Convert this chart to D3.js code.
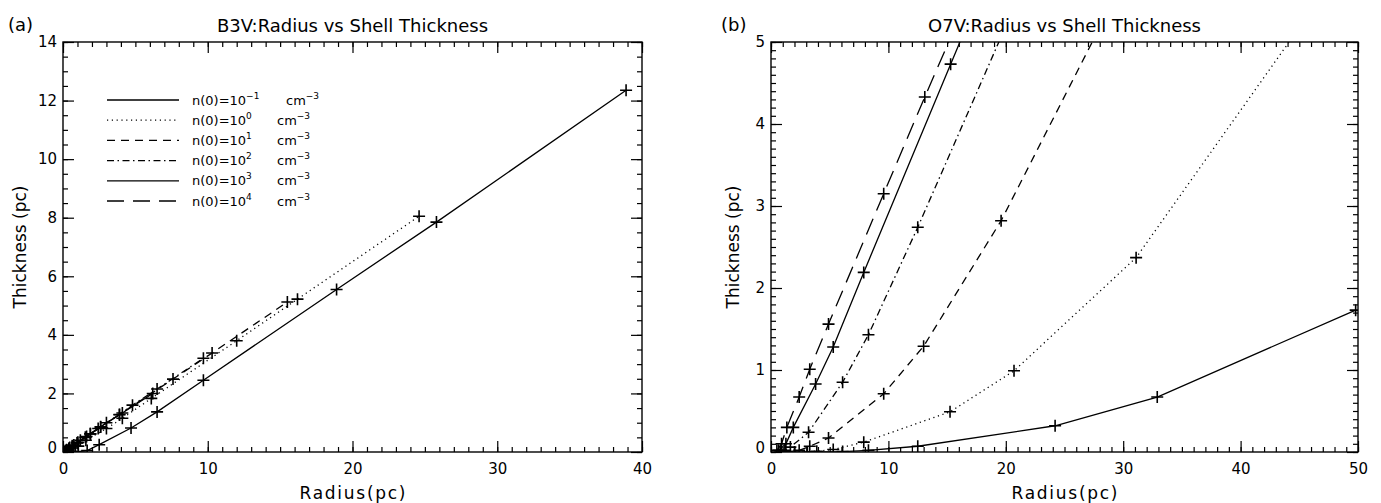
<!DOCTYPE html>
<html>
<head>
<meta charset="utf-8">
<script src="https://cdn.jsdelivr.net/npm/d3@7"></script>
<style>
  body { margin: 0; background: #fff; }
  svg text { fill: #000; }
</style>
</head>
<body>
<svg id="chart" width="1381" height="503"></svg>
<script>
// ---- Data -------------------------------------------------------------
// Initial density exponents: n(0) = 10^k cm^-3
const densityExponents = ["\u22121", "0", "1", "2", "3", "4"];
const lineStyles = ["solid", "dotted", "dashed", "dashdot", "solid", "longdash"];

// B3V star: shell radius (pc) and shell thickness (pc) for each n(0)
const b3vRadiusN1em1 = [0.86, 1.67, 2.5, 4.7, 6.5, 9.7, 18.9, 25.8, 38.9];
const b3vThickN1em1  = [0.0, 0.05, 0.25, 0.82, 1.37, 2.45, 5.55, 7.85, 12.35];
const b3vRadiusN1e0  = [0.54, 1.06, 1.58, 3.0, 4.1, 6.1, 12.0, 16.2, 24.6];
const b3vThickN1e0   = [0.02, 0.2, 0.4, 0.8, 1.15, 1.83, 3.8, 5.22, 8.05];
const b3vRadiusN1e1  = [0.34, 0.67, 1.0, 1.88, 2.6, 3.9, 7.6, 10.3, 15.5];
const b3vThickN1e1   = [0.03, 0.18, 0.32, 0.62, 0.86, 1.28, 2.49, 3.38, 5.12];
const b3vRadiusN1e2  = [0.22, 0.42, 0.63, 1.2, 1.63, 2.43, 4.8, 6.5, 9.7];
const b3vThickN1e2   = [0.03, 0.12, 0.2, 0.4, 0.53, 0.8, 1.6, 2.15, 3.2];
const b3vRadiusN1e3  = [0.14, 0.27, 0.4, 0.75, 1.03, 1.54, 3.0, 4.1, 6.2];
const b3vThickN1e3   = [0.02, 0.07, 0.12, 0.24, 0.33, 0.5, 1.0, 1.33, 2.0];
const b3vRadiusN1e4  = [0.09, 0.17, 0.25, 0.47, 0.65, 0.97, 1.9, 2.6, 3.9];
const b3vThickN1e4   = [0.01, 0.05, 0.08, 0.15, 0.21, 0.31, 0.62, 0.85, 1.27];

// O7V star: shell radius (pc) and shell thickness (pc) for each n(0)
const o7vRadiusN1em1 = [3.1, 6.1, 8.3, 12.5, 24.2, 32.9, 49.8];
const o7vThickN1em1  = [0.0, 0.005, 0.02, 0.07, 0.32, 0.67, 1.73];
const o7vRadiusN1e0  = [2.0, 3.9, 5.3, 7.9, 15.25, 20.7, 31.1, 47.1];
const o7vThickN1e0   = [0.0, 0.01, 0.03, 0.12, 0.49, 0.99, 2.37, 5.6];
const o7vRadiusN1e1  = [1.2, 2.4, 3.3, 4.9, 9.6, 13.0, 19.6, 29.5];
const o7vThickN1e1   = [0.0, 0.02, 0.07, 0.17, 0.71, 1.29, 2.82, 5.6];
const o7vRadiusN1e2  = [0.8, 1.2, 1.65, 3.2, 6.1, 8.3, 12.5, 24.3];
const o7vThickN1e2   = [0.0, 0.02, 0.06, 0.24, 0.85, 1.43, 2.74, 6.6];
const o7vRadiusN1e3  = [0.65, 1.27, 1.9, 3.8, 5.3, 7.9, 15.3, 20.8];
const o7vThickN1e3   = [0.02, 0.1, 0.3, 0.83, 1.28, 2.19, 4.73, 6.6];
const o7vRadiusN1e4  = [0.5, 0.9, 1.35, 2.4, 3.3, 4.9, 9.6, 13.1, 19.7];
const o7vThickN1e4   = [0.02, 0.1, 0.3, 0.67, 1.01, 1.56, 3.15, 4.33, 6.5];

// Axis ticks
const b3vXTicks = [0, 10, 20, 30, 40];
const b3vYTicks = [0, 2, 4, 6, 8, 10, 12, 14];
const o7vXTicks = [0, 10, 20, 30, 40, 50];
const o7vYTicks = [0, 1, 2, 3, 4, 5];

const b3vSeries = [
  [b3vRadiusN1em1, b3vThickN1em1], [b3vRadiusN1e0, b3vThickN1e0],
  [b3vRadiusN1e1, b3vThickN1e1],   [b3vRadiusN1e2, b3vThickN1e2],
  [b3vRadiusN1e3, b3vThickN1e3],   [b3vRadiusN1e4, b3vThickN1e4]
];
const o7vSeries = [
  [o7vRadiusN1em1, o7vThickN1em1], [o7vRadiusN1e0, o7vThickN1e0],
  [o7vRadiusN1e1, o7vThickN1e1],   [o7vRadiusN1e2, o7vThickN1e2],
  [o7vRadiusN1e3, o7vThickN1e3],   [o7vRadiusN1e4, o7vThickN1e4]
];

// ---- Drawing ----------------------------------------------------------
const FONT = '"DejaVu Sans", "Liberation Sans", sans-serif';
const dashFor = {
  solid: null,
  dotted: "1.2,3.6",
  dashed: "8,6",
  dashdot: "7,3.5,1.5,3.5",
  longdash: "17,9"
};
const svg = d3.select("#chart");

function styleAxis(sel, size) {
  sel.attr("font-family", FONT).attr("font-size", size);
  sel.select(".domain").remove();
  sel.selectAll(".tick line").attr("stroke", "#000").attr("stroke-width", 1.2);
}

function drawPanel(p) {
  const x = d3.scaleLinear().domain(p.xDomain).range([p.left, p.right]);
  const y = d3.scaleLinear().domain(p.yDomain).range([p.bottom, p.top]);
  const g = svg.append("g");

  g.append("clipPath").attr("id", p.id + "-clip")
    .append("rect")
    .attr("x", p.left).attr("y", p.top)
    .attr("width", p.right - p.left).attr("height", p.bottom - p.top);

  const xMinor = d3.range(p.xDomain[0], p.xDomain[1] + 1e-9, p.xMinor).map(v => +v.toFixed(4));
  const yMinor = d3.range(p.yDomain[0], p.yDomain[1] + 1e-9, p.yMinor).map(v => +v.toFixed(4));

  // minor ticks on all four sides
  g.append("g").attr("transform", `translate(0,${p.bottom})`)
    .call(d3.axisBottom(x).tickValues(xMinor).tickSize(-5).tickFormat(""))
    .call(s => styleAxis(s, 15));
  g.append("g").attr("transform", `translate(0,${p.top})`)
    .call(d3.axisTop(x).tickValues(xMinor).tickSize(-5).tickFormat(""))
    .call(s => styleAxis(s, 15));
  g.append("g").attr("transform", `translate(${p.left},0)`)
    .call(d3.axisLeft(y).tickValues(yMinor).tickSize(-5).tickFormat(""))
    .call(s => styleAxis(s, 15));
  g.append("g").attr("transform", `translate(${p.right},0)`)
    .call(d3.axisRight(y).tickValues(yMinor).tickSize(-5).tickFormat(""))
    .call(s => styleAxis(s, 15));

  // major ticks and labels
  g.append("g").attr("transform", `translate(0,${p.bottom})`)
    .call(d3.axisBottom(x).tickValues(p.xTicks).tickSize(-11).tickPadding(11).tickFormat(d3.format("d")))
    .call(s => styleAxis(s, 15));
  g.append("g").attr("transform", `translate(0,${p.top})`)
    .call(d3.axisTop(x).tickValues(p.xTicks).tickSize(-11).tickFormat(""))
    .call(s => styleAxis(s, 15));
  const yAxis = g.append("g").attr("transform", `translate(${p.left},0)`)
    .call(d3.axisLeft(y).tickValues(p.yTicks).tickSize(-11).tickPadding(6).tickFormat(d3.format("d")))
    .call(s => styleAxis(s, 15));
  // the zero label sits a little above the bottom edge
  yAxis.selectAll(".tick").filter(d => d === 0).select("text").attr("y", -4);
  g.append("g").attr("transform", `translate(${p.right},0)`)
    .call(d3.axisRight(y).tickValues(p.yTicks).tickSize(-11).tickFormat(""))
    .call(s => styleAxis(s, 15));

  // frame
  g.append("rect")
    .attr("x", p.left).attr("y", p.top)
    .attr("width", p.right - p.left).attr("height", p.bottom - p.top)
    .attr("fill", "none").attr("stroke", "#000").attr("stroke-width", 1.4);

  // series lines and "+" markers
  const line = d3.line().x(d => x(d[0])).y(d => y(d[1]));
  const plot = g.append("g").attr("clip-path", `url(#${p.id}-clip)`);
  p.series.forEach((s, i) => {
    const pts = s[0].map((r, k) => [r, s[1][k]]);
    plot.append("path")
      .datum(pts)
      .attr("d", line)
      .attr("fill", "none")
      .attr("stroke", "#000")
      .attr("stroke-width", 1.3)
      .attr("stroke-dasharray", dashFor[lineStyles[i]]);
    plot.selectAll(null)
      .data(pts)
      .join("path")
      .attr("d", d => {
        const cx = x(d[0]), cy = y(d[1]), h = 6;
        return `M${cx - h},${cy}H${cx + h}M${cx},${cy - h}V${cy + h}`;
      })
      .attr("stroke", "#000")
      .attr("stroke-width", 1.6);
  });

  // titles
  const cx = (p.left + p.right) / 2;
  svg.append("text")
    .attr("x", cx).attr("y", 32).attr("text-anchor", "middle")
    .attr("font-family", FONT).attr("font-size", 18)
    .text(p.title);
  svg.append("text")
    .attr("x", p.tagX).attr("y", 31)
    .attr("font-family", FONT).attr("font-size", 18)
    .text(p.tag);
  svg.append("text")
    .attr("x", cx).attr("y", 499).attr("text-anchor", "middle")
    .attr("font-family", FONT).attr("font-size", 17)
    .attr("textLength", 106).attr("lengthAdjust", "spacing")
    .text("Radius(pc)");
  svg.append("text")
    .attr("transform", `translate(${p.yTitleX},${(p.top + p.bottom) / 2}) rotate(-90)`)
    .attr("text-anchor", "middle")
    .attr("font-family", FONT).attr("font-size", 17)
    .text("Thickness (pc)");

  return { x, y, g };
}

drawPanel({
  id: "b3v", left: 63, right: 642, top: 42, bottom: 452,
  xDomain: [0, 40], yDomain: [0, 14], xMinor: 1, yMinor: 0.5,
  xTicks: b3vXTicks, yTicks: b3vYTicks, series: b3vSeries,
  title: "B3V:Radius vs Shell Thickness", tag: "(a)", tagX: 8, yTitleX: 26
});

drawPanel({
  id: "o7v", left: 771, right: 1358, top: 42, bottom: 452,
  xDomain: [0, 50], yDomain: [0, 5], xMinor: 1, yMinor: 0.1,
  xTicks: o7vXTicks, yTicks: o7vYTicks, series: o7vSeries,
  title: "O7V:Radius vs Shell Thickness", tag: "(b)", tagX: 721, yTitleX: 739
});

// legend for the density series
const legend = svg.append("g").attr("font-family", FONT);
densityExponents.forEach((k, i) => {
  const yy = 100 + i * 20.2;
  legend.append("line")
    .attr("x1", 107).attr("x2", 179).attr("y1", yy).attr("y2", yy)
    .attr("stroke", "#000").attr("stroke-width", 1.3)
    .attr("stroke-dasharray", dashFor[lineStyles[i]]);
  const t = legend.append("text").attr("x", 192).attr("y", yy + 4.5).attr("font-size", 13);
  t.append("tspan").text("n(0)=10");
  t.append("tspan").attr("dy", -6).attr("font-size", 9).text(k);
  // unit column: a bit further right after the wider negative exponent
  t.append("tspan").attr("x", i === 0 ? 286 : 277).attr("dy", 6).text("cm");
  t.append("tspan").attr("dy", -6).attr("font-size", 9).text("\u22123");
});
</script>
</body>
</html>
